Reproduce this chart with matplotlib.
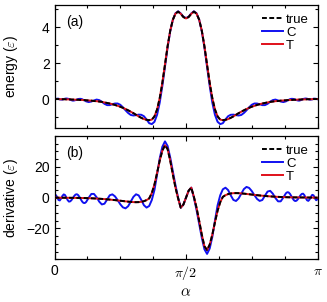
import numpy as np
import matplotlib
matplotlib.use("Agg")
import matplotlib.pyplot as plt
from matplotlib.ticker import MultipleLocator, FixedLocator

# ---------------- data (alpha in units of pi) ----------------
alpha_frac = [
    0.0, 0.005, 0.01, 0.015, 0.02, 0.025, 0.03, 0.035, 0.04, 0.045, 0.05, 0.055,
    0.06, 0.065, 0.07, 0.075, 0.08, 0.085, 0.09, 0.095, 0.1, 0.105, 0.11, 0.115,
    0.12, 0.13, 0.14, 0.15, 0.16, 0.17, 0.18, 0.19, 0.2, 0.21, 0.22, 0.23, 0.24,
    0.25, 0.26, 0.27, 0.28, 0.29, 0.3, 0.31, 0.32, 0.33, 0.34, 0.35, 0.36, 0.37,
    0.38, 0.39, 0.4, 0.41, 0.42, 0.43, 0.44, 0.45, 0.46, 0.47, 0.48, 0.49, 0.5,
    0.51, 0.52, 0.53, 0.54, 0.55, 0.56, 0.57, 0.58, 0.59, 0.6, 0.61, 0.62, 0.63,
    0.64, 0.65, 0.66, 0.67, 0.68, 0.69, 0.7, 0.71, 0.72, 0.73, 0.74, 0.75, 0.76,
    0.77, 0.78, 0.79, 0.8, 0.81, 0.82, 0.83, 0.84, 0.85, 0.86, 0.87, 0.88,
    0.885, 0.89, 0.895, 0.9, 0.905, 0.91, 0.915, 0.92, 0.925, 0.93, 0.935, 0.94,
    0.945, 0.95, 0.955, 0.96, 0.965, 0.97, 0.975, 0.98, 0.985, 0.99, 0.995, 1.0,
]

true_energy = [
    0, 0, 0, 0, -0.01, -0.01, -0.01, -0.01, -0.01, -0.02, -0.02, -0.02,
    -0.02, -0.03, -0.03, -0.03, -0.04, -0.04, -0.04, -0.05, -0.05, -0.05, -0.06, -0.06,
    -0.07, -0.08, -0.09, -0.11, -0.12, -0.14, -0.16, -0.19, -0.22, -0.25, -0.29, -0.33, -0.38,
    -0.43, -0.49, -0.56, -0.63, -0.71, -0.79, -0.88, -0.97, -1.05, -1.12, -1.16, -1.18, -1.15,
    -0.97, -0.58, 0.05, 0.91, 1.92, 2.95, 3.82, 4.43, 4.77, 4.88, 4.76, 4.58, 4.50,
    4.58, 4.76, 4.88, 4.77, 4.43, 3.82, 2.95, 1.92, 0.91, 0.05, -0.58, -0.97, -1.15,
    -1.18, -1.16, -1.12, -1.05, -0.97, -0.88, -0.79, -0.71, -0.63, -0.56, -0.49, -0.43, -0.38,
    -0.33, -0.29, -0.25, -0.22, -0.19, -0.16, -0.14, -0.12, -0.11, -0.09, -0.08, -0.07,
    -0.06, -0.06, -0.05, -0.05, -0.05, -0.04, -0.04, -0.04, -0.03, -0.03, -0.03, -0.02,
    -0.02, -0.02, -0.02, -0.01, -0.01, -0.01, -0.01, -0.01, 0, 0, 0, 0,
]

c_energy = [
    -0.01, 0.01, 0.02, 0.02, -0.02, -0.03, -0.03, -0.01, 0.02, 0.03, 0.02, 0.0,
    -0.04, -0.07, -0.09, -0.08, -0.06, -0.03, 0.0, 0.01, 0.01, -0.01, -0.05, -0.08,
    -0.13, -0.17, -0.14, -0.08, -0.03, -0.06, -0.15, -0.27, -0.34, -0.34, -0.29, -0.25, -0.25,
    -0.32, -0.46, -0.63, -0.78, -0.89, -0.92, -0.90, -0.87, -0.88, -0.96, -1.14, -1.35, -1.40,
    -1.27, -0.88, -0.20, 0.73, 1.80, 2.88, 3.79, 4.43, 4.79, 4.90, 4.78, 4.60, 4.52,
    4.60, 4.78, 4.90, 4.79, 4.43, 3.79, 2.88, 1.80, 0.73, -0.20, -0.88, -1.27, -1.40,
    -1.35, -1.14, -0.96, -0.88, -0.87, -0.90, -0.92, -0.89, -0.78, -0.63, -0.46, -0.32, -0.25,
    -0.25, -0.29, -0.34, -0.34, -0.27, -0.15, -0.06, -0.03, -0.08, -0.14, -0.17, -0.13,
    -0.08, -0.05, -0.01, 0.01, 0.01, 0.0, -0.03, -0.06, -0.08, -0.09, -0.07, -0.04,
    0.0, 0.02, 0.03, 0.02, -0.01, -0.03, -0.03, -0.02, 0.02, 0.02, 0.01, -0.01,
]

# T lies on top of the exact curve at this resolution
t_energy = list(true_energy)

true_deriv = [
    0.0, -0.01, -0.02, -0.03, -0.04, -0.05, -0.06, -0.07, -0.08, -0.09, -0.1, -0.11,
    -0.12, -0.13, -0.14, -0.15, -0.16, -0.17, -0.18, -0.2, -0.21, -0.23, -0.25, -0.27,
    -0.3, -0.35, -0.42, -0.5, -0.6, -0.7, -0.82, -0.95, -1.1, -1.25, -1.42, -1.6, -1.8,
    -2.0, -2.2, -2.4, -2.6, -2.75, -2.9, -2.95, -2.9, -2.7, -2.3, -1.6, -0.5, 3.0,
    8.5, 16.0, 24.0, 30.5, 34.0, 31.5, 24.0, 15.0, 6.5, -0.5, -6.5, -4.5, 0.0,
    4.5, 6.5, 0.5, -6.5, -15.0, -24.0, -31.5, -34.0, -30.5, -24.0, -16.0, -8.5, -3.0,
    0.5, 1.6, 2.3, 2.7, 2.9, 2.95, 2.9, 2.75, 2.6, 2.4, 2.2, 2.0, 1.8,
    1.6, 1.42, 1.25, 1.1, 0.95, 0.82, 0.7, 0.6, 0.5, 0.42, 0.35, 0.3,
    0.27, 0.25, 0.23, 0.21, 0.2, 0.18, 0.17, 0.16, 0.15, 0.14, 0.13, 0.12,
    0.11, 0.1, 0.09, 0.08, 0.07, 0.06, 0.05, 0.04, 0.03, 0.02, 0.01, 0.0,
]

c_deriv = [
    1.0, 1.69, 0.42, -1.5, -1.82, -0.6, 1.12, 2.1, 1.67, 0.13, -1.63, -2.58,
    -2.38, -1.48, -0.19, 1.1, 1.99, 2.21, 1.64, 0.4, -1.12, -2.52, -3.4, -3.51,
    -2.86, -0.08, 2.4, 2.41, 0.27, -2.59, -4.41, -3.93, -1.23, 1.54, 2.13, 0.82, -1.6,
    -4.29, -6.3, -6.95, -5.55, -2.53, 0.51, 2.18, 1.46, -1.52, -4.92, -6.46, -5.4, -1.5,
    5.0, 15.0, 25.5, 33.0, 36.5, 33.5, 26.0, 17.0, 8.0, 0.0, -6.5, -4.5, 0.0,
    4.5, 6.5, 0.0, -8.0, -17.0, -26.0, -33.5, -36.5, -33.0, -25.5, -15.0, -5.0, 1.5,
    5.4, 6.46, 4.92, 1.52, -1.46, -2.18, -0.51, 2.53, 5.55, 6.95, 6.3, 4.29, 1.6,
    -0.82, -2.13, -1.54, 1.23, 3.93, 4.41, 2.59, -0.27, -2.41, -2.4, 0.08, 2.86,
    3.51, 3.4, 2.52, 1.12, -0.4, -1.64, -2.21, -1.99, -1.1, 0.19, 1.48, 2.38,
    2.58, 1.63, -0.13, -1.67, -2.1, -1.12, 0.6, 1.82, 1.5, -0.42, -1.69, -1.0,
]

t_deriv = list(true_deriv)

series_labels = ["true", "C", "T"]
xtick_labels = ["0", r"$\pi/2$", r"$\pi$"]

# ---------------- style ----------------
plt.rcParams["font.family"] = ["Liberation Sans", "DejaVu Sans"]
plt.rcParams["mathtext.fontset"] = "cm"
plt.rcParams["font.size"] = 10

alpha = np.pi * np.asarray(alpha_frac)

fig = plt.figure(figsize=(3.27, 3.02), dpi=100)
ax1 = fig.add_axes([0.1667, 0.5772, 0.8043, 0.4062])
ax2 = fig.add_axes([0.1667, 0.1414, 0.8043, 0.4083])

def draw(ax, c_vals, t_vals, true_vals):
    ax.plot(alpha, c_vals, color="#1010f0", lw=1.4, label=series_labels[1], zorder=2)
    ax.plot(alpha, t_vals, color="#e0101a", lw=1.4, label=series_labels[2], zorder=3)
    ax.plot(alpha, true_vals, color="black", lw=1.4, ls=(0, (2.5, 1.25)),
            label=series_labels[0], zorder=4)
    ax.set_xlim(0, np.pi)
    ax.xaxis.set_major_locator(FixedLocator([0, np.pi / 2, np.pi]))
    ax.xaxis.set_minor_locator(MultipleLocator(np.pi / 8))
    ax.tick_params(which="both", direction="in", top=True, right=True,
                   labelsize=10, width=0.8)
    ax.tick_params(which="major", length=3.5)
    ax.tick_params(which="minor", length=2)
    for s in ax.spines.values():
        s.set_linewidth(0.9)
    h, l = ax.get_legend_handles_labels()
    order = [2, 0, 1]
    ax.legend([h[i] for i in order], [l[i] for i in order], loc="upper right",
              frameon=False, fontsize=9.5, handlelength=1.6, handletextpad=0.2,
              labelspacing=0.05, borderaxespad=0.25)

draw(ax1, c_energy, t_energy, true_energy)
draw(ax2, c_deriv, t_deriv, true_deriv)

ax1.set_ylim(-1.6, 5.25)
ax1.yaxis.set_major_locator(FixedLocator([0, 2, 4]))
ax1.yaxis.set_minor_locator(MultipleLocator(1))
ax1.set_xticklabels([])
ax1.set_ylabel(r"energy ($\varepsilon$)", fontsize=10)
ax1.yaxis.set_label_coords(-0.13, 0.5)
ax1.text(0.045, 0.86, "(a)", transform=ax1.transAxes, fontsize=10, va="center")

ax2.set_ylim(-40, 40)
ax2.yaxis.set_major_locator(FixedLocator([-20, 0, 20]))
ax2.yaxis.set_minor_locator(MultipleLocator(5))
ax2.set_xticklabels(xtick_labels)
ax2.set_ylabel(r"derivative ($\varepsilon$)", fontsize=10)
ax2.yaxis.set_label_coords(-0.13, 0.5)
ax2.set_xlabel(r"$\alpha$", fontsize=11, labelpad=2)
ax2.text(0.045, 0.86, "(b)", transform=ax2.transAxes, fontsize=10, va="center")

fig.savefig("out.png", dpi=100)
